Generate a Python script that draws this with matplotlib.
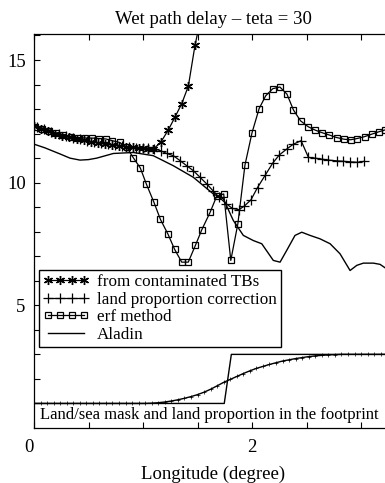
import matplotlib
matplotlib.use('Agg')
import matplotlib.pyplot as plt

plt.rcParams['font.family'] = ['Liberation Serif', 'DejaVu Serif']

# erf method (squares)
erf_x = [0.01, 0.075, 0.14, 0.205, 0.27, 0.335, 0.40, 0.465, 0.53, 0.595,
         0.66, 0.72, 0.785, 0.85, 0.91, 0.975, 1.03, 1.10, 1.16, 1.23,
         1.29, 1.355, 1.415, 1.48, 1.54, 1.615, 1.675, 1.74, 1.805, 1.87,
         1.935, 2.0, 2.065, 2.125, 2.19, 2.255, 2.32, 2.38, 2.445, 2.515,
         2.58, 2.64, 2.71, 2.775, 2.845, 2.905, 2.965, 3.035, 3.10, 3.16, 3.22]
erf_y = [12.27, 12.18, 12.11, 12.02, 11.94, 11.87, 11.84, 11.82, 11.82, 11.80,
         11.78, 11.71, 11.64, 11.45, 11.02, 10.60, 9.95, 9.20, 8.50, 7.89,
         7.28, 6.76, 6.76, 7.44, 8.09, 8.79, 9.44, 9.54, 6.83, 8.33,
         10.72, 12.04, 13.02, 13.54, 13.83, 13.90, 13.61, 12.96, 12.52, 12.28,
         12.14, 12.04, 11.94, 11.84, 11.77, 11.75, 11.80, 11.88, 11.98, 12.07, 12.15]

# from contaminated TBs (asterisks)
ast_x = [0.0, 0.065, 0.13, 0.195, 0.26, 0.325, 0.39, 0.455, 0.52, 0.585,
         0.65, 0.715, 0.78, 0.845, 0.91, 0.96, 1.003, 1.049, 1.094, 1.162,
         1.232, 1.294, 1.355, 1.416, 1.477, 1.54]
ast_y = [12.3, 12.2, 12.1, 12.0, 11.92, 11.85, 11.78, 11.72, 11.67, 11.62,
         11.58, 11.54, 11.5, 11.47, 11.44, 11.43, 11.43, 11.37, 11.37, 11.64,
         12.15, 12.68, 13.22, 13.94, 15.61, 16.9]

# land proportion correction (plus)
plus_x = [0.03, 0.095, 0.16, 0.225, 0.29, 0.355, 0.42, 0.485, 0.55, 0.615,
          0.68, 0.745, 0.81, 0.875, 0.94, 1.0, 1.05, 1.10, 1.162, 1.217,
          1.278, 1.339, 1.401, 1.461, 1.523, 1.584, 1.64, 1.70, 1.76, 1.82,
          1.88, 1.93, 1.99, 2.05, 2.12, 2.19, 2.25, 2.318, 2.379, 2.45,
          2.517, 2.578, 2.639, 2.70, 2.777, 2.838, 2.899, 2.966, 3.028]
plus_y = [12.28, 12.17, 12.07, 11.98, 11.9, 11.83, 11.76, 11.7, 11.65, 11.6,
          11.56, 11.52, 11.48, 11.45, 11.43, 11.42, 11.41, 11.38, 11.3, 11.19,
          11.1, 10.9, 10.69, 10.49, 10.22, 9.95, 9.68, 9.4, 9.15, 8.95,
          8.9, 9.05, 9.3, 9.8, 10.3, 10.8, 11.13, 11.37, 11.57, 11.71,
          11.03, 11.0, 10.96, 10.92, 10.89, 10.87, 10.85, 10.83, 10.87]

# Aladin model
ala_x = [0.0, 0.1, 0.239, 0.33, 0.422, 0.5, 0.575, 0.728, 0.911, 1.094,
         1.278, 1.461, 1.645, 1.737, 1.828, 1.92, 2.012, 2.089, 2.195, 2.257,
         2.318, 2.394, 2.456, 2.532, 2.624, 2.716, 2.807, 2.899, 2.961, 3.021,
         3.113, 3.174, 3.22]
ala_y = [11.57, 11.42, 11.17, 11.0, 10.92, 10.94, 11.0, 11.19, 11.23, 11.1,
         10.69, 10.22, 9.54, 9.34, 8.46, 7.85, 7.64, 7.51, 6.83, 6.76,
         7.24, 7.85, 7.98, 7.85, 7.71, 7.51, 7.10, 6.42, 6.63, 6.72,
         6.72, 6.67, 6.53]

# land/sea mask and land proportion
mask_x = [0.0, 1.745, 1.81, 3.3]
mask_y = [1.0, 1.0, 3.0, 3.0]
prop_x = [0.0, 0.06, 0.12, 0.18, 0.24, 0.30, 0.36, 0.42, 0.48, 0.54,
          0.60, 0.66, 0.72, 0.78, 0.84, 0.90, 0.96, 1.02, 1.08, 1.14,
          1.20, 1.26, 1.32, 1.38, 1.44, 1.50, 1.56, 1.62, 1.68, 1.74,
          1.80, 1.86, 1.92, 1.98, 2.04, 2.10, 2.16, 2.22, 2.28, 2.34,
          2.40, 2.46, 2.52, 2.58, 2.64, 2.70, 2.76, 2.82, 2.88, 2.94,
          3.00, 3.06, 3.12, 3.18, 3.24]
prop_y = [1.0, 1.0, 1.0, 1.0, 1.0, 1.0, 1.0, 1.0, 1.0, 1.0,
          1.0, 1.0, 1.0, 1.0, 1.0, 1.0, 1.0, 1.0, 1.01, 1.03,
          1.06, 1.10, 1.15, 1.21, 1.28, 1.36, 1.46, 1.58, 1.72, 1.86,
          1.98, 2.10, 2.22, 2.33, 2.43, 2.51, 2.59, 2.66, 2.73, 2.78,
          2.83, 2.87, 2.91, 2.94, 2.96, 2.98, 2.99, 3.0, 3.0, 3.0,
          3.0, 3.0, 3.0, 3.0, 3.0]

fig = plt.figure(figsize=(3.85, 4.83), dpi=100)
ax = fig.add_axes([0.0883, 0.1139, 0.930, 0.8157])

lw = 0.9
ax.plot(ast_x, ast_y, color='black', lw=lw, marker=(6, 2, 0), ms=6.5,
        mew=1.0, label='from contaminated TBs')
ax.plot(plus_x, plus_y, color='black', lw=lw, marker='+', ms=6.5,
        mew=0.9, label='land proportion correction')
ax.plot(erf_x, erf_y, color='black', lw=lw, marker='s', ms=5, mfc='none',
        mew=0.9, label='erf method')
ax.plot(ala_x, ala_y, color='black', lw=1.0, label='Aladin')

ax.plot(mask_x, mask_y, color='black', lw=1.0)
ax.plot(prop_x, prop_y, color='black', lw=1.0, marker='+', ms=3, mew=0.5)

ax.text(0.055, 0.53, 'Land/sea mask and land proportion in the footprint',
        fontsize=12, va='center', ha='left')

ax.set_xlim(0, 3.284)
ax.set_ylim(0, 16.06)
ax.set_xticks([0, 2])
ax.set_xticklabels(['0', '2'])
ax.set_xticks([0.5, 1.0, 1.5, 2.5, 3.0], minor=True)
ax.set_yticks([5, 10, 15])
ax.set_yticks([1, 2, 3, 4, 6, 7, 8, 9, 11, 12, 13, 14, 16], minor=True)
ax.tick_params(which='both', direction='in', top=True, right=True,
               labelsize=13.5, length=4, width=0.8, pad=8)
ax.tick_params(axis='y', pad=6)
ax.get_xticklabels()[0].set_horizontalalignment('right')
for s in ax.spines.values():
    s.set_linewidth(0.9)

ax.set_title('Wet path delay \u2013 teta = 30', fontsize=13.5, pad=7)
ax.set_xlabel('Longitude (degree)', fontsize=13.5, labelpad=7)

leg = ax.legend(loc='lower left', bbox_to_anchor=(0.014, 0.206),
                borderaxespad=0, numpoints=4, fontsize=12.3, handlelength=2.7,
                handletextpad=0.45, labelspacing=0.08, borderpad=0.25,
                fancybox=False, framealpha=1, edgecolor='black')
leg.get_frame().set_linewidth(1.0)

fig.savefig('out.png', dpi=100)
